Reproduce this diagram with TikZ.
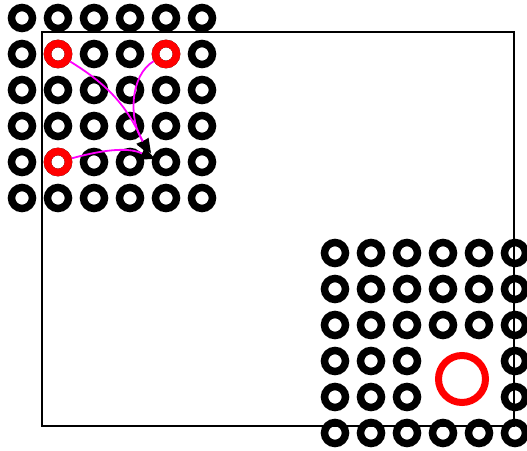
\documentclass[tikz,border=0pt]{standalone}
\usetikzlibrary{arrows.meta}
\definecolor{mag}{RGB}{255,0,255}
\definecolor{pure red}{RGB}{255,0,0}
\begin{document}
\begin{tikzpicture}[x=1pt,y=-1pt,
  ring/.style={circle,draw=black,line width=7.5pt,minimum size=21pt,inner sep=0pt},
  redring/.style={ring,draw=pure red},
  bigring/.style={circle,draw=pure red,line width=7pt,minimum size=47pt,inner sep=0pt},
  conn/.style={draw=mag,line width=1.8pt,-{Triangle[length=14pt,width=13pt,fill=black,color=black]}}]
\useasboundingbox (0,0) rectangle (527,450);
\fill[white] (0,0) rectangle (527,450);
\draw[line width=1.6pt] (42,32) rectangle (514,426);
% top-left grid
\foreach \i in {0,...,5}{
  \foreach \j in {0,...,5}{
    \pgfmathsetmacro\xx{22+36*\i}
    \pgfmathsetmacro\yy{18+36*\j}
    \node[ring] (a\i\j) at (\xx,\yy) {};
  }
}
\node[redring] (r1) at (58,54) {};
\node[redring] (r2) at (166,54) {};
\node[redring] (r3) at (58,162) {};
% bottom-right grid
\foreach \i in {0,...,5}{
  \foreach \j in {0,...,5}{
    \pgfmathsetmacro\xx{335+36*\i}
    \pgfmathsetmacro\yy{253+36*\j}
    \ifnum\j>2 \ifnum\j<5 \ifnum\i>2 \ifnum\i<5 \else\node[ring] (b\i\j) at (\xx,\yy) {};\fi\else\node[ring] (b\i\j) at (\xx,\yy) {};\fi\else\node[ring] (b\i\j) at (\xx,\yy) {};\fi\else\node[ring] (b\i\j) at (\xx,\yy) {};\fi
  }
}
\node[bigring] (big) at (462,379) {};
% connectors
\coordinate (t1) at (148,154);
\coordinate (t2) at (151,153);
\coordinate (t3) at (155,159);
\draw[conn] (r1) .. controls (100,80) and (125,100) .. (t1);
\draw[conn] (r2) .. controls (130,75) and (128,120) .. (t2);
\draw[conn] (r3) .. controls (110,148) and (130,148) .. (t3);
\end{tikzpicture}
\end{document}
